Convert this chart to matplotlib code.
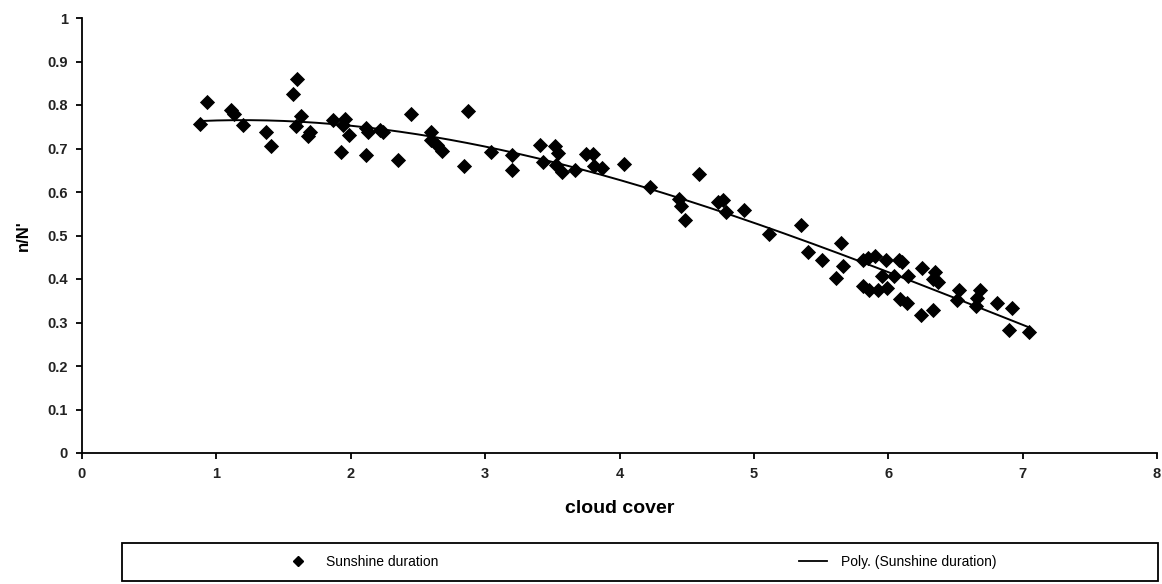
import numpy as np
import matplotlib
matplotlib.use("Agg")
import matplotlib.pyplot as plt
from matplotlib.patches import Rectangle
from matplotlib.lines import Line2D

# cloud cover (octas) vs relative sunshine duration n/N'
cloud = [0.88, 0.93, 1.11, 1.13, 1.20, 1.37, 1.41, 1.57, 1.60, 1.63,
         1.59, 1.70, 1.68, 1.87, 1.96, 1.94, 1.99, 1.93, 2.11, 2.11,
         2.13, 2.22, 2.24, 2.45, 2.35, 2.60, 2.60, 2.64, 2.68, 2.87,
         2.84, 3.04, 3.20, 3.20, 3.41, 3.43, 3.52, 3.54, 3.53, 3.57,
         3.67, 3.75, 3.80, 3.81, 3.87, 4.03, 4.23, 4.59, 4.44, 4.46,
         4.49, 4.73, 4.77, 4.79, 4.93, 5.11, 5.35, 5.40, 5.51, 5.65,
         5.66, 5.61, 5.81, 5.85, 5.90, 5.98, 6.08, 6.10, 6.25, 5.95,
         6.04, 6.15, 5.81, 5.86, 5.92, 5.99, 6.09, 6.14, 6.24, 6.33,
         6.33, 6.35, 6.37, 6.53, 6.51, 6.68, 6.66, 6.65, 6.81, 6.92,
         6.90, 7.05]
sunshine = [0.756, 0.808, 0.789, 0.779, 0.755, 0.739, 0.706, 0.825, 0.860, 0.774,
            0.751, 0.739, 0.728, 0.766, 0.768, 0.755, 0.730, 0.692, 0.747, 0.684,
            0.739, 0.743, 0.738, 0.780, 0.674, 0.739, 0.720, 0.709, 0.695, 0.787,
            0.660, 0.693, 0.684, 0.651, 0.707, 0.670, 0.705, 0.690, 0.663, 0.647,
            0.650, 0.688, 0.688, 0.660, 0.655, 0.665, 0.611, 0.642, 0.584, 0.567,
            0.536, 0.578, 0.582, 0.555, 0.559, 0.503, 0.523, 0.462, 0.443, 0.483,
            0.431, 0.402, 0.444, 0.448, 0.454, 0.444, 0.444, 0.440, 0.425, 0.408,
            0.408, 0.406, 0.385, 0.375, 0.375, 0.379, 0.354, 0.345, 0.318, 0.400,
            0.329, 0.415, 0.394, 0.375, 0.352, 0.375, 0.356, 0.337, 0.345, 0.333,
            0.283, 0.278]

x_ticks = [0, 1, 2, 3, 4, 5, 6, 7, 8]
y_ticks = [0, 0.1, 0.2, 0.3, 0.4, 0.5, 0.6, 0.7, 0.8, 0.9, 1]
y_labels = ["0", "0.1", "0.2", "0.3", "0.4", "0.5", "0.6", "0.7", "0.8", "0.9", "1"]

plt.rcParams['font.family'] = ['Liberation Sans', 'DejaVu Sans']

fig = plt.figure(figsize=(11.62, 5.84), dpi=100)
ax = fig.add_axes([82 / 1162, 1 - 453 / 584, 1075 / 1162, 435 / 584])

ax.scatter(cloud, sunshine, marker="D", s=60, color="black", zorder=3, linewidths=0)

# polynomial trendline (like Excel's "Poly.")
coef = np.polyfit(cloud, sunshine, 3)
xs = np.linspace(min(cloud), max(cloud), 200)
ax.plot(xs, np.polyval(coef, xs), color="black", linewidth=1.4, zorder=2)

ax.set_xlim(0, 8)
ax.set_ylim(0, 1)
ax.set_xticks(x_ticks)
ax.set_yticks(y_ticks)
ax.set_yticklabels(y_labels)
ax.spines['top'].set_visible(False)
ax.spines['right'].set_visible(False)
ax.spines['left'].set_linewidth(1.3)
ax.spines['bottom'].set_linewidth(1.3)
ax.tick_params(direction="out", length=4, width=1.3, labelsize=10.5, pad=6)
for lab in ax.get_xticklabels() + ax.get_yticklabels():
    lab.set_fontweight("bold")
    lab.set_color("#222222")

ax.set_xlabel("cloud cover", fontsize=14, fontweight="bold", labelpad=14)
ax.set_ylabel("n/N'", fontsize=12, fontweight="bold", labelpad=12)

# legend box across the bottom
fig.patches.append(Rectangle((122 / 1162, 3 / 584), 1036 / 1162, 38 / 584,
                             transform=fig.transFigure, fill=False,
                             edgecolor="black", linewidth=1.3))
h1 = Line2D([], [], marker="D", color="black", linestyle="none", markersize=5)
h2 = Line2D([], [], color="black", linewidth=1.3)
fig.legend([h1, h2], ["Sunshine duration", "Poly. (Sunshine duration)"],
           loc="center", bbox_to_anchor=(640 / 1162, 22 / 584), ncol=2,
           frameon=False, fontsize=10, handlelength=2.0, handletextpad=1.0,
           columnspacing=26)

fig.savefig("out.png", dpi=100)
